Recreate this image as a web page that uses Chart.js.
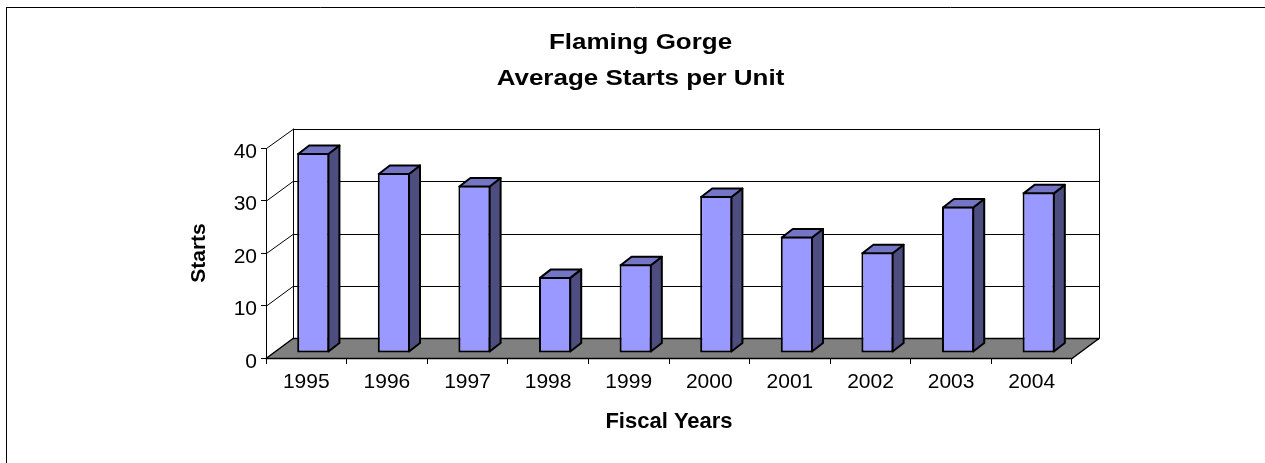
<!DOCTYPE html>
<html><head><meta charset="utf-8">
<script src="https://cdn.jsdelivr.net/npm/chart.js@4"></script>
<style>html,body{margin:0;padding:0;background:#fff;overflow:hidden}#wrap{width:1265px;height:463px;position:relative}</style>
</head><body><div id="wrap"><canvas id="c" width="1265" height="463"></canvas></div>
<script>
const categories = ['1995','1996','1997','1998','1999','2000','2001','2002','2003','2004'];
const starts = [38.1, 34.3, 31.9, 14.5, 16.9, 29.9, 22.2, 19.2, 27.9, 30.6];
const yTicks = [0, 10, 20, 30, 40];
const titleLines = ['Flaming Gorge', 'Average Starts per Unit'];
const xTitle = 'Fiscal Years';
const yTitle = 'Starts';

const FONT = "'Liberation Sans', Arial, sans-serif";
const DX = 27, DY = -19.5;          // depth of floor / back wall
const SX = 7, SY = -5;              // bar front-face placement inside the depth
const BDX = 11, BDY = -8.5;         // bar depth
const FRONT = '#9999FF', SIDE = '#4D4D80', TOP = '#7575C6';

function seg(ctx, x1, y1, x2, y2) { ctx.beginPath(); ctx.moveTo(x1, y1); ctx.lineTo(x2, y2); ctx.stroke(); }

const depthPlugin = {
  id: 'depth3d',
  beforeDatasetsDraw(chart) {
    const {ctx, chartArea: a, scales: {y}} = chart;
    const L = a.left, R = a.right, T = a.top, B = a.bottom;
    ctx.save();
    // back wall
    ctx.fillStyle = '#fff';
    ctx.fillRect(L + DX, T + DY, R - L, B - T);
    ctx.strokeStyle = '#000';
    ctx.lineWidth = 1;
    yTicks.forEach(v => {
      const fy = y.getPixelForValue(v);
      const by = Math.round(fy + DY) + 0.5;
      seg(ctx, L + DX, by, R + DX, by);
      seg(ctx, L + 0.5, fy + 0.5, L + DX, by);
    });
    seg(ctx, Math.round(L + DX) + 0.5, T + DY, Math.round(L + DX) + 0.5, B + DY);
    seg(ctx, Math.round(R + DX) + 0.5, T + DY, Math.round(R + DX) + 0.5, B + DY);
    // floor
    ctx.beginPath();
    ctx.moveTo(L, B + 0.5);
    ctx.lineTo(R, B + 0.5);
    ctx.lineTo(R + DX, B + DY);
    ctx.lineTo(L + DX, B + DY);
    ctx.closePath();
    ctx.fillStyle = '#808080';
    ctx.fill();
    ctx.lineWidth = 1.5;
    ctx.lineJoin = 'round';
    ctx.stroke();
    ctx.restore();
    ctx.save();
    ctx.translate(SX, SY);
  },
  afterDatasetsDraw(chart) {
    const {ctx} = chart;
    const meta = chart.getDatasetMeta(0);
    ctx.lineWidth = 2;
    ctx.lineJoin = 'round';
    ctx.strokeStyle = '#000';
    meta.data.forEach(bar => {
      const p = bar.getProps(['x', 'y', 'base', 'width'], true);
      const l = p.x - p.width / 2 + 1, r = p.x + p.width / 2 - 1, t = p.y + 1, b = p.base - 1;
      // side
      ctx.beginPath();
      ctx.moveTo(r, t); ctx.lineTo(r + BDX, t + BDY); ctx.lineTo(r + BDX, b + BDY); ctx.lineTo(r, b);
      ctx.closePath();
      ctx.fillStyle = SIDE; ctx.fill(); ctx.stroke();
      // top
      ctx.beginPath();
      ctx.moveTo(l, t); ctx.lineTo(l + BDX, t + BDY); ctx.lineTo(r + BDX, t + BDY); ctx.lineTo(r, t);
      ctx.closePath();
      ctx.fillStyle = TOP; ctx.fill(); ctx.stroke();
    });
    ctx.restore();
  },
  afterDraw(chart) {
    const {ctx} = chart;
    ctx.save();
    // frame
    ctx.strokeStyle = '#000'; ctx.lineWidth = 1;
    seg(ctx, 6, 7.5, 1265, 7.5);
    seg(ctx, 6.5, 7, 6.5, 463);
    // title
    ctx.fillStyle = '#000';
    ctx.font = 'bold 22px ' + FONT;
    ctx.textAlign = 'center';
    ctx.textBaseline = 'alphabetic';
    const baselines = [49.3, 85.3];
    titleLines.forEach((t, i) => {
      ctx.save();
      ctx.translate(640.5, baselines[i]);
      ctx.scale(1.18, 1);
      ctx.fillText(t, 0, 0);
      ctx.restore();
    });
    ctx.restore();
  }
};

new Chart(document.getElementById('c'), {
  type: 'bar',
  data: {
    labels: categories,
    datasets: [{
      data: starts,
      backgroundColor: FRONT,
      borderColor: '#000',
      borderWidth: 2,
      borderSkipped: false,
      categoryPercentage: 1,
      barPercentage: 0.4,
      clip: false
    }]
  },
  options: {
    responsive: false,
    animation: false,
    devicePixelRatio: 1,
    layout: {padding: {top: 148, right: 193, bottom: 0, left: 0}},
    plugins: {legend: {display: false}, tooltip: {enabled: false}, title: {display: false}},
    scales: {
      x: {
        grid: {display: true, drawOnChartArea: false, drawTicks: true, tickLength: 6, color: '#000', offset: true},
        border: {display: true, color: '#000', width: 1},
        ticks: {color: '#000', font: {family: FONT, size: 21}, padding: 6, maxRotation: 0},
        title: {display: true, text: xTitle, color: '#000', font: {family: FONT, size: 22, weight: 'bold'}, padding: {top: 0, bottom: 28}},
        afterFit(s) { s.height = 105; }
      },
      y: {
        min: 0, max: 40,
        afterBuildTicks(s) { s.ticks = yTicks.map(v => ({value: v})); },
        grid: {display: true, drawOnChartArea: false, drawTicks: true, tickLength: 5, color: '#000'},
        border: {display: true, color: '#000', width: 1},
        ticks: {color: '#000', font: {family: FONT, size: 21}, padding: 4, labelOffset: 4},
        title: {display: true, text: yTitle, color: '#000', font: {family: FONT, size: 21, weight: 'bold'}, padding: {top: 187, bottom: 0}},
        afterFit(s) { s.width = 266; }
      }
    }
  },
  plugins: [depthPlugin]
});
</script>
</body></html>
